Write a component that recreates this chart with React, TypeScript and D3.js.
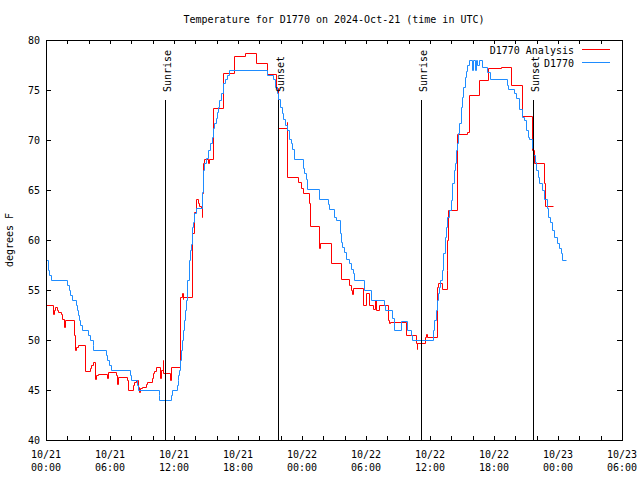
import * as d3 from 'd3';

// hours after 2024-10-21 00:00 UTC, temperature in F
const analysis: [number, number][] = [
  [0.00, 53.5], [0.69, 52.6], [0.75, 53.0], [0.87, 53.3], [1.00, 53.0], [1.16, 52.8], [1.41, 52.6], [1.53, 52.1], [1.69, 51.3], [1.75, 52.0],
  [2.66, 50.5], [2.75, 49.0], [2.81, 49.3], [2.97, 49.5],
  [3.69, 46.9], [4.12, 47.2], [4.25, 47.5], [4.37, 47.8], [4.62, 46.1], [4.70, 46.5], [4.90, 46.6],
  [5.75, 46.2], [5.84, 46.8], [6.56, 46.5], [6.69, 45.6], [6.75, 46.3],
  [7.56, 46.0], [7.69, 45.0], [8.19, 45.5], [8.28, 45.8], [8.44, 46.0], [8.60, 45.3], [8.75, 44.8], [8.81, 45.2], [8.97, 45.3],
  [9.37, 45.6], [9.50, 45.8], [9.90, 46.2], [10.00, 46.7], [10.12, 46.9], [10.28, 47.3],
  [10.69, 46.2], [10.75, 47.0], [10.94, 48.0], [11.00, 46.7], [11.62, 46.0], [11.75, 47.3],
  [12.56, 54.3], [12.72, 54.7], [12.80, 54.1], [12.87, 54.3],
  [13.66, 60.7], [13.90, 62.8], [14.03, 64.1], [14.22, 63.7], [14.34, 63.4], [14.50, 63.2], [14.59, 62.3], [14.66, 64.7],
  [14.75, 67.7], [14.84, 68.1], [15.22, 67.7], [15.31, 68.1],
  [15.69, 73.2], [16.62, 76.7], [17.62, 78.4], [18.66, 78.7], [19.66, 77.7], [20.69, 76.6], [21.53, 75.2], [21.72, 71.8], [21.78, 71.2],
  [22.56, 71.8], [22.62, 66.3],
  [23.62, 65.8], [23.90, 65.2], [24.10, 64.7], [24.66, 63.7], [24.75, 61.4], [25.62, 59.2], [25.69, 59.7], [26.72, 57.7],
  [27.69, 56.1], [28.41, 55.5], [28.59, 55.0], [28.72, 54.6], [28.81, 55.2],
  [29.69, 53.5], [30.00, 54.7], [30.28, 53.5], [30.69, 53.1], [30.84, 54.0], [30.94, 53.0], [31.22, 53.5],
  [32.10, 52.0], [32.16, 51.7], [32.22, 51.8], [33.75, 50.5], [34.69, 49.7], [34.75, 49.1], [34.81, 49.7],
  [35.53, 50.3], [35.62, 50.6], [35.70, 50.3],
  [36.63, 53.0], [36.70, 55.3], [36.75, 55.7], [37.16, 55.1], [37.56, 57.0], [37.62, 60.0], [37.72, 63.0],
  [38.56, 70.6], [39.50, 70.8], [39.66, 74.5], [40.59, 76.0], [41.44, 77.2], [42.66, 77.3], [43.59, 75.5],
  [44.59, 72.4], [45.53, 70.0], [45.59, 69.0], [45.78, 67.7], [46.69, 65.7], [46.78, 63.4], [47.50, 63.4],
];

const observed: [number, number][] = [
  [0.00, 58.0], [0.15, 57.0], [0.30, 56.5], [0.45, 56.0],
  [2.00, 55.5], [2.12, 55.0], [2.25, 54.5], [2.40, 54.0],
  [2.81, 53.5], [2.87, 53.0], [2.97, 52.5], [3.09, 52.0], [3.19, 51.5], [3.34, 51.0],
  [3.97, 50.5], [4.12, 50.0], [4.37, 49.5], [4.44, 49.0],
  [5.62, 48.5], [5.75, 48.0], [5.94, 47.5], [6.06, 47.0],
  [7.87, 46.5], [7.94, 46.0], [8.50, 45.5], [8.60, 45.0],
  [10.56, 44.5], [10.62, 44.0], [11.69, 44.5], [11.78, 45.0], [12.25, 45.5], [12.34, 46.0],
  [12.42, 46.5], [12.50, 47.0], [12.56, 48.0], [12.66, 49.0], [12.75, 50.0], [12.84, 51.0], [12.94, 52.0], [13.03, 53.0], [13.12, 54.0],
  [13.25, 56.0], [13.38, 58.0], [13.50, 59.0], [13.59, 59.6], [13.72, 61.3], [13.81, 61.8], [13.90, 62.7], [14.06, 63.2],
  [14.66, 64.8], [14.75, 67.0], [14.84, 67.7], [14.97, 68.2], [15.22, 69.0], [15.37, 69.7], [15.53, 70.3], [15.69, 71.2],
  [15.78, 71.7], [15.91, 72.2], [16.00, 72.8], [16.15, 73.3], [16.25, 74.0], [16.38, 74.7], [16.62, 75.7], [16.78, 76.1],
  [16.94, 76.5], [17.16, 77.0],
  [20.75, 76.5], [21.31, 76.1], [21.47, 75.3], [21.63, 74.7], [21.78, 74.1], [21.94, 73.3], [22.09, 72.7], [22.25, 72.1],
  [22.41, 71.5], [22.62, 71.0], [22.81, 70.1], [22.94, 69.7], [23.09, 69.1], [23.25, 68.1],
  [24.12, 67.2], [24.22, 66.7], [24.34, 66.1], [24.50, 65.1], [25.59, 64.1], [26.47, 63.6], [26.56, 63.1], [27.00, 62.3],
  [27.16, 62.0], [27.53, 60.7], [27.66, 59.8], [27.78, 59.3], [27.94, 58.8], [28.12, 58.1], [28.44, 57.7], [28.56, 57.1],
  [28.75, 56.7], [28.87, 56.0],
  [29.81, 55.0], [30.44, 54.0], [31.72, 53.5], [31.78, 53.0], [32.41, 52.2], [32.66, 51.0], [33.28, 51.9], [33.84, 51.0],
  [34.19, 50.5], [34.34, 50.0],
  [36.31, 51.0], [36.40, 52.0], [36.53, 53.0], [36.66, 54.0], [36.78, 54.7], [36.87, 55.3], [36.94, 56.0], [37.09, 57.0],
  [37.25, 58.7], [37.41, 60.3], [37.50, 61.3], [37.62, 62.3], [37.78, 63.0], [37.94, 64.0], [38.09, 65.7], [38.25, 67.0],
  [38.34, 67.7], [38.44, 69.0], [38.50, 69.7], [38.66, 70.7], [38.75, 71.7], [38.87, 73.3], [39.03, 74.3], [39.12, 75.3],
  [39.28, 76.3], [39.37, 76.9], [39.50, 77.5], [39.66, 78.0],
  [39.97, 77.0], [40.06, 78.0], [40.22, 77.0], [40.31, 78.0], [40.44, 77.5], [40.59, 78.0], [40.91, 77.3], [41.31, 76.8],
  [41.62, 76.1],
  [43.19, 75.5], [43.34, 75.1], [43.87, 74.7], [44.06, 74.2], [44.37, 73.1], [44.59, 72.3], [44.84, 72.0], [45.00, 71.0],
  [45.16, 70.3], [45.31, 70.1], [45.59, 69.2], [45.69, 68.5], [45.84, 67.8], [45.94, 67.0], [46.09, 66.3], [46.25, 65.7],
  [46.47, 65.0], [46.72, 64.1], [46.94, 63.2], [47.09, 62.3], [47.25, 61.8], [47.47, 61.0], [47.66, 60.3], [47.87, 59.7],
  [48.09, 59.2], [48.25, 58.7], [48.34, 58.0], [48.72, 58.0],
];

const sunEvents: [string, number][] = [
  ['Sunrise', 11.17],
  ['Sunset', 21.75],
  ['Sunrise', 35.2],
  ['Sunset', 45.7],
];
const sunLineTop = 74;

const yTicks = [40, 45, 50, 55, 60, 65, 70, 75, 80];
const seriesNames = ['D1770 Analysis', 'D1770'];
const seriesColors = ['#ff0000', '#1e8cff'];
const title = 'Temperature for D1770 on 2024-Oct-21 (time in UTC)';
const yLabel = 'degrees F';

const t0 = Date.UTC(2024, 9, 21, 0, 0);
const tEnd = Date.UTC(2024, 9, 23, 6, 0);
const toDate = (h: number) => new Date(t0 + h * 3600 * 1000);

const W = 640;
const H = 480;
const margin = { top: 40, right: 18, bottom: 40, left: 46 };
const font = '"DejaVu Sans Mono", monospace';

// snap to pixel centres so 1px lines stay sharp like the png
const px = (v: number) => Math.round(v) + 0.5;

export default function App() {
  const x = d3.scaleUtc()
    .domain([new Date(t0), new Date(tEnd)])
    .range([margin.left, W - margin.right]);
  const y = d3.scaleLinear()
    .domain([40, 80])
    .range([H - margin.bottom, margin.top]);

  const line = d3.line<[number, number]>()
    .x(d => px(x(toDate(d[0]))))
    .y(d => px(y(d[1])))
    .curve(d3.curveStepAfter);

  const xTicks = x.ticks(d3.utcHour.every(2)!);
  const labelTicks = x.ticks(d3.utcHour.every(6)!);
  const dayFmt = d3.utcFormat('%m/%d');
  const hourFmt = d3.utcFormat('%H:%M');

  const x0 = margin.left, x1 = W - margin.right;
  const y0 = H - margin.bottom, y1 = margin.top;

  return (
    <svg width={W} height={H} style={{ position: 'absolute', left: 0, top: 0, background: '#fff' }}
      fontFamily={font} fontSize={10}>
      <rect x={0} y={0} width={W} height={H} fill="#fff" />

      {/* ticks */}
      <g stroke="#000" shapeRendering="crispEdges">
        {xTicks.map((t, i) => (
          <g key={'xt' + i}>
            <line x1={px(x(t))} x2={px(x(t))} y1={y0} y2={y0 - 4} />
            <line x1={px(x(t))} x2={px(x(t))} y1={y1} y2={y1 + 4} />
          </g>
        ))}
        {yTicks.map(v => (
          <g key={'yt' + v}>
            <line x1={x0} x2={x0 + 5} y1={px(y(v))} y2={px(y(v))} />
            <line x1={x1} x2={x1 - 5} y1={px(y(v))} y2={px(y(v))} />
          </g>
        ))}
      </g>

      {/* tick labels */}
      {yTicks.map(v => (
        <text key={'yl' + v} x={x0 - 6} y={y(v) + 3.5} textAnchor="end">{v}</text>
      ))}
      {labelTicks.map((t, i) => (
        <text key={'xl' + i} textAnchor="middle">
          <tspan x={x(t)} y={458}>{dayFmt(t)}</tspan>
          <tspan x={x(t)} y={471}>{hourFmt(t)}</tspan>
        </text>
      ))}

      {/* series */}
      <path d={line(analysis) ?? ''} fill="none" stroke={seriesColors[0]} strokeWidth={1} />
      <path d={line(observed) ?? ''} fill="none" stroke={seriesColors[1]} strokeWidth={1} />

      {/* sunrise / sunset markers */}
      {sunEvents.map(([name, h], i) => {
        const sx = px(x(toDate(h)));
        return (
          <g key={'sun' + i}>
            <line x1={sx} x2={sx} y1={y(sunLineTop)} y2={y0} stroke="#000" />
            <text transform={`translate(${sx + 5},${y(sunLineTop) - 8}) rotate(-90)`}>{name}</text>
          </g>
        );
      })}

      {/* frame */}
      <rect x={x0 + 0.5} y={y1 + 0.5} width={x1 - x0} height={y0 - y1} fill="none" stroke="#000" />

      {/* legend */}
      {seriesNames.map((name, i) => (
        <g key={'lg' + i}>
          <text x={574} y={54 + i * 13} textAnchor="end">{name}</text>
          <line x1={582} x2={610} y1={49.5 + i * 13} y2={49.5 + i * 13} stroke={seriesColors[i]} />
        </g>
      ))}

      <text x={(x0 + x1) / 2} y={23} textAnchor="middle">{title}</text>
      <text transform={`translate(13,${(y0 + y1) / 2}) rotate(-90)`} textAnchor="middle">{yLabel}</text>
    </svg>
  );
}
